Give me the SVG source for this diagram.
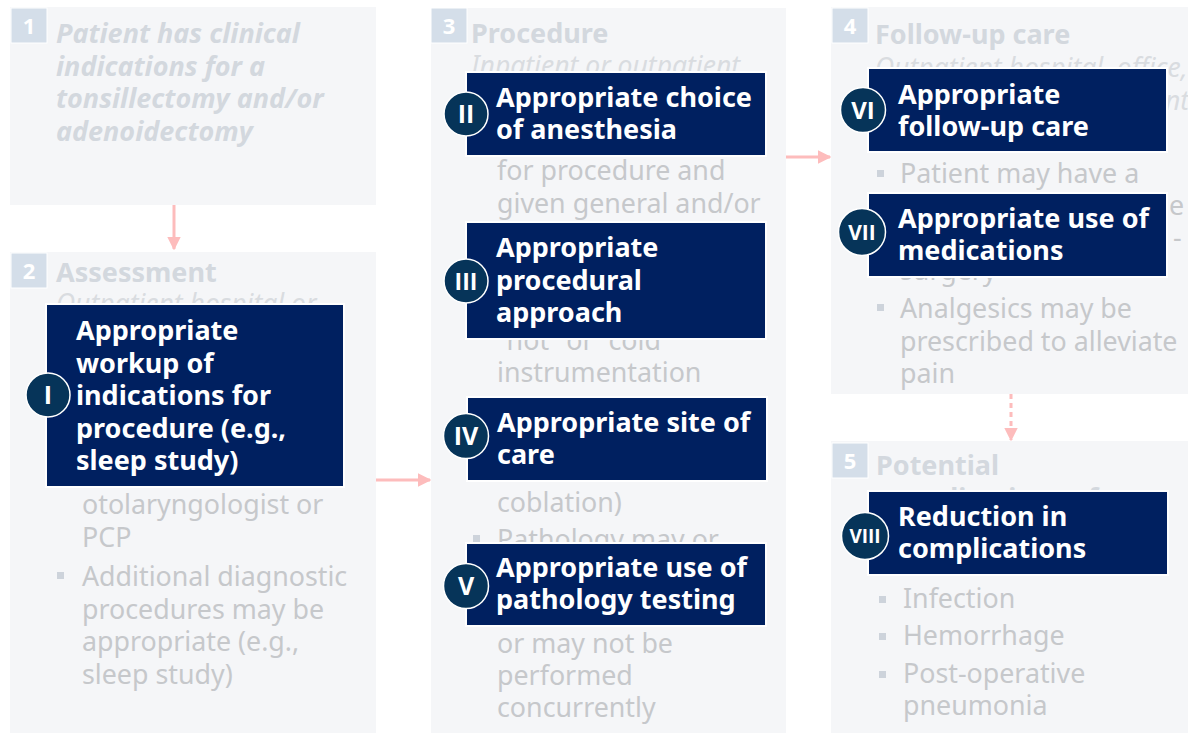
<svg xmlns="http://www.w3.org/2000/svg" width="1188" height="733" viewBox="0 0 1188 733">
<defs>
<style>
text{font-family:"Noto Sans","Open Sans",sans-serif}
.panel{fill:#f5f6f8}
.badge{fill:#d4dee9;stroke:#fff;stroke-width:1}
.num{font-family:"Open Sans","Noto Sans",sans-serif;font-weight:700;font-size:22px;fill:#fff;text-anchor:middle}
.head{font-weight:700;font-size:27px;fill:#d3d8de}
.headit{font-weight:700;font-style:italic;font-size:27px;fill:#d3d8de}
.sub{font-style:italic;font-size:26.5px;fill:#d9dce0}
.body{font-size:26.8px;fill:#c6c8cb}
.bul{fill:#cdd3db}
.box{fill:#002060;stroke:#fff;stroke-width:2}
.btxt{font-weight:700;font-size:27px;fill:#fff}
.circ{fill:#063459;stroke:#fff;stroke-width:1.5}
.clbl{font-family:"Open Sans","Noto Sans",sans-serif;font-weight:700;fill:#fff;text-anchor:middle}
.conn{stroke:#fdbcbc;stroke-width:3;fill:none}
</style>
<marker id="ah" viewBox="0 0 10 10" refX="9" refY="5" markerWidth="4.6" markerHeight="4.6" orient="auto" markerUnits="strokeWidth">
<path d="M0,0 L10,5 L0,10 z" fill="#fdbcbc"/>
</marker>
</defs>
<rect width="1188" height="733" fill="#fff"/>

<g id="step1">
<rect class="panel" x="10" y="7" width="366" height="198"/>
<rect class="badge" x="11" y="8" width="36" height="35"/>
<text class="num" x="29" y="34">1</text>
<text class="headit"><tspan x="56" y="43">Patient has clinical</tspan><tspan x="56" y="75.5">indications for a</tspan><tspan x="56" y="108">tonsillectomy and/or</tspan><tspan x="56" y="140.5">adenoidectomy</tspan></text>
</g>

<g id="step2">
<rect class="panel" x="10" y="252" width="366" height="481"/>
<rect class="badge" x="11" y="253" width="36" height="35"/>
<text class="num" x="29" y="279">2</text>
<text class="head" x="56" y="282">Assessment</text>
<text class="sub" x="56" y="313">Outpatient hospital or</text>
<text class="body"><tspan x="82" y="514">otolaryngologist or</tspan><tspan x="82" y="547">PCP</tspan></text>
<rect class="bul" x="57" y="572" width="7" height="7"/>
<text class="body"><tspan x="82" y="586">Additional diagnostic</tspan><tspan x="82" y="618.5">procedures may be</tspan><tspan x="82" y="651">appropriate (e.g.,</tspan><tspan x="82" y="683.5">sleep study)</tspan></text>
</g>

<g id="step3">
<rect class="panel" x="431" y="8" width="355" height="725"/>
<rect class="badge" x="431" y="8" width="36" height="35"/>
<text class="num" x="449" y="34">3</text>
<text class="head" x="471" y="43">Procedure</text>
<text class="sub" x="471" y="75">Inpatient or outpatient</text>
<text class="body"><tspan x="497" y="180">for procedure and</tspan><tspan x="497" y="212.5">given general and/or</tspan></text>
<text class="body"><tspan x="497" y="349.5">“hot” or “cold”</tspan><tspan x="497" y="382">instrumentation</tspan></text>
<text class="body" x="497" y="512">coblation)</text>
<rect class="bul" x="473" y="535" width="7" height="7"/>
<text class="body" x="497" y="549">Pathology may or</text>
<text class="body"><tspan x="497" y="653">or may not be</tspan><tspan x="497" y="685">performed</tspan><tspan x="497" y="717">concurrently</tspan></text>
</g>

<g id="step4">
<rect class="panel" x="831" y="7" width="357" height="387"/>
<rect class="badge" x="832" y="8" width="36" height="35"/>
<text class="num" x="850" y="34">4</text>
<text class="head" x="875" y="44">Follow-up care</text>
<text class="sub" x="875" y="77">Outpatient hospital, office,</text>
<text class="sub" x="1165" y="110">nt</text>
<rect class="bul" x="877" y="170" width="7" height="7"/>
<text class="body" x="900" y="182.5">Patient may have a</text>
<text class="body" x="1169" y="215">e</text>
<text class="body" x="1173" y="247">-</text>
<text class="body" x="900" y="280">surgery</text>
<rect class="bul" x="877" y="304" width="7" height="7"/>
<text class="body"><tspan x="900" y="318">Analgesics may be</tspan><tspan x="900" y="350.5">prescribed to alleviate</tspan><tspan x="900" y="383">pain</tspan></text>
</g>

<g id="step5">
<rect class="panel" x="831" y="441" width="357" height="292"/>
<rect class="badge" x="832" y="443" width="36" height="35"/>
<text class="num" x="850" y="469">5</text>
<text class="head"><tspan x="876" y="475">Potential</tspan><tspan x="876" y="508">complications of</tspan></text>
<rect class="bul" x="879" y="596" width="7" height="7"/>
<text class="body" x="903" y="608">Infection</text>
<rect class="bul" x="879" y="633" width="7" height="7"/>
<text class="body" x="903" y="645">Hemorrhage</text>
<rect class="bul" x="879" y="671" width="7" height="7"/>
<text class="body"><tspan x="903" y="683">Post-operative</tspan><tspan x="903" y="715">pneumonia</tspan></text>
</g>

<g id="connectors">
<path class="conn" d="M174,205 V249" marker-end="url(#ah)"/>
<path class="conn" d="M376,480 H430" marker-end="url(#ah)"/>
<path class="conn" d="M786,157 H830" marker-end="url(#ah)"/>
<path class="conn" d="M1011,394 V440" stroke-dasharray="5 4" marker-end="url(#ah)"/>
</g>

<g id="measure-I">
<rect class="box" x="46" y="304" width="298" height="183"/>
<text class="btxt"><tspan x="76" y="340">Appropriate</tspan><tspan x="76" y="372.5">workup of</tspan><tspan x="76" y="405">indications for</tspan><tspan x="76" y="437.5">procedure (e.g.,</tspan><tspan x="76" y="470">sleep study)</tspan></text>
<circle class="circ" cx="48" cy="395" r="22"/>
<text class="clbl" x="48" y="404" style="font-size:25px">I</text>
</g>

<g id="measure-II">
<rect class="box" x="466" y="72" width="300" height="84"/>
<text class="btxt"><tspan x="496" y="106.5">Appropriate choice</tspan><tspan x="496" y="139">of anesthesia</tspan></text>
<circle class="circ" cx="466" cy="114" r="22"/>
<text class="clbl" x="466" y="123" style="font-size:25px">II</text>
</g>

<g id="measure-III">
<rect class="box" x="466" y="222" width="300" height="117"/>
<text class="btxt"><tspan x="496" y="257">Appropriate</tspan><tspan x="496" y="289.5">procedural</tspan><tspan x="496" y="322">approach</tspan></text>
<circle class="circ" cx="466" cy="281" r="22"/>
<text class="clbl" x="466" y="289.5" style="font-size:23px">III</text>
</g>

<g id="measure-IV">
<rect class="box" x="467" y="397" width="300" height="84"/>
<text class="btxt"><tspan x="497" y="432">Appropriate site of</tspan><tspan x="497" y="464">care</tspan></text>
<circle class="circ" cx="466" cy="436" r="22.5"/>
<text class="clbl" x="466" y="445" style="font-size:25px">IV</text>
</g>

<g id="measure-V">
<rect class="box" x="466" y="543" width="300" height="83"/>
<text class="btxt"><tspan x="496" y="577">Appropriate use of</tspan><tspan x="496" y="609">pathology testing</tspan></text>
<circle class="circ" cx="466" cy="586" r="22.5"/>
<text class="clbl" x="466" y="595" style="font-size:25px">V</text>
</g>

<g id="measure-VI">
<rect class="box" x="868" y="68" width="299" height="84"/>
<text class="btxt"><tspan x="898" y="103.5">Appropriate</tspan><tspan x="898" y="135.5">follow-up care</tspan></text>
<circle class="circ" cx="863" cy="110" r="22.5"/>
<text class="clbl" x="863" y="118.5" style="font-size:24px">VI</text>
</g>

<g id="measure-VII">
<rect class="box" x="868" y="193" width="299" height="84"/>
<text class="btxt"><tspan x="898" y="228">Appropriate use of</tspan><tspan x="898" y="260">medications</tspan></text>
<circle class="circ" cx="862" cy="232" r="23.5"/>
<text class="clbl" x="862" y="240" style="font-size:21px">VII</text>
</g>

<g id="measure-VIII">
<rect class="box" x="868" y="491" width="300" height="84"/>
<text class="btxt"><tspan x="898" y="526">Reduction in</tspan><tspan x="898" y="558">complications</tspan></text>
<circle class="circ" cx="865" cy="536" r="23.5"/>
<text class="clbl" x="865" y="543" style="font-size:19px">VIII</text>
</g>
</svg>
